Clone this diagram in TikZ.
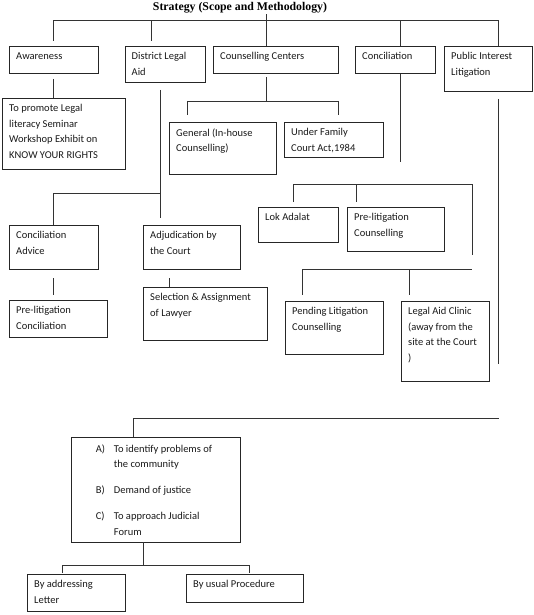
\documentclass[tikz,border=0pt]{standalone}
\usepackage{fontspec}
\setmainfont{Carlito}
\newfontfamily\titlefont{Liberation Serif}
\usetikzlibrary{calc}
\tikzset{
 boxst/.style={draw=black!85, line width=0.9pt, inner sep=0pt, anchor=north west},
 txt/.style={inner xsep=7pt, inner ysep=6.3pt, anchor=north west, align=left, font=\fontsize{10.5}{15.5}\selectfont, text=black!90},
 ln/.style={draw=black!80, line width=0.9pt},
}
\newcommand\bx[6]{%
 \node[boxst, minimum width={(#4-#2)*1pt}, minimum height={(#5-#3)*1pt}] (#1) at (#2,#3) {};
 \node[txt] (#1t) at (#1.north west) {#6};}
\begin{document}
\begin{tikzpicture}[x=1pt,y=-1pt]
\useasboundingbox (0,0) rectangle (534,615);
\node[inner sep=1pt, font=\titlefont\bfseries\fontsize{11.8}{13}\selectfont] (title) at (240,7.5) {Strategy (Scope and Methodology)};
% boxes
\bx{aw}{9}{46}{98}{73}{Awareness}
\bx{dla}{124.5}{46}{205}{81.6}{District Legal\\Aid}
\bx{cc}{213}{46}{338}{73}{Counselling Centers}
\bx{con}{355}{46}{435}{73}{Conciliation}
\bx{pil}{444}{46}{532}{91}{Public Interest\\Litigation}
\bx{prom}{2}{98}{125}{169}{To promote Legal\\literacy Seminar\\Workshop Exhibit on\\KNOW YOUR RIGHTS}
\bx{gen}{169}{122}{276}{174}{General (In-house\\Counselling)}
\bx{ufc}{284}{122}{383}{157}{Under Family\\Court Act,1984}
\bx{cadv}{9}{225}{98}{269}{Conciliation\\Advice}
\bx{adj}{143}{225}{240}{269}{Adjudication by\\the Court}
\bx{plc}{9}{300}{107}{337}{Pre-litigation\\Conciliation}
\bx{sel}{143}{287}{267}{340}{Selection \& Assignment\\of Lawyer}
\bx{lok}{258}{207}{338}{242}{Lok Adalat}
\bx{plcoun}{347}{207}{444}{251}{Pre-litigation\\Counselling}
\bx{pend}{285}{301}{383}{354}{Pending Litigation\\Counselling}
\bx{lac}{401}{301}{489}{381}{Legal Aid Clinic\\(away from the\\site at the Court\\)}
\bx{list}{70.7}{437}{240}{542}{}
\node[txt, inner xsep=0pt, inner ysep=4pt] (listtx) at ($(list.north west)+(25,0)$) {\begin{tabular}{@{}p{18pt}@{}l@{}}A) & To identify problems of\\ & the community\\[10.5pt] B) & Demand of justice\\[10.5pt] C) & To approach Judicial\\ & Forum\end{tabular}};
\bx{addr}{27}{574}{125}{611}{By addressing\\Letter}
\bx{usual}{186}{574}{303}{602}{By usual Procedure}
% top bus
\coordinate (tA) at (53.4,20.4);
\coordinate (tB) at (151,20.4);
\coordinate (tE) at (498,20.4);
\draw[ln] (tA) -- (tE);
\draw[ln] (tA) -- ++(0,20.6);
\draw[ln] (tB) -- ++(0,20.6);
\coordinate (ccT) at ($(cc.north west)+(53,0)$);
\draw[ln] (ccT |- title.south) -- (ccT);
\coordinate (conT) at ($(con.north west)+(45,0)$);
\draw[ln] (conT |- tA) -- (conT);
\draw[ln] (tE) -- (tE |- pil.north);
% awareness
\coordinate (awB) at (53.4,79);
\draw[ln] (awB) -- (awB |- prom.north);
% district legal aid
\coordinate (dlB) at (160,90);
\coordinate (dlE) at (160,218);
\coordinate (dlJ) at (160,193);
\draw[ln] (dlB) -- (dlE);
\draw[ln] (dlJ) -- (dlJ -| awB) -- (awB |- cadv.north);
\coordinate (caB) at (53.4,278);
\draw[ln] (caB) -- ++(0,17);
\coordinate (adB) at (169,278);
\draw[ln] (adB) -- (adB |- sel.north);
% counselling centers
\coordinate (ccB) at (266,77);
\coordinate (ccJ) at (266,101);
\draw[ln] (ccB) -- (ccJ);
\coordinate (ccL) at (187,101);
\coordinate (ccR) at (338,101);
\draw[ln] (ccL) -- (ccR);
\draw[ln] (ccL) -- ++(0,14);
\draw[ln] (ccR) -- ++(0,14);
% conciliation
\draw[ln] (conT |- con.south) -- ++(0,88);
\coordinate (lkL) at (293,184);
\coordinate (lkM) at (356,184);
\coordinate (lkR) at (472,184);
\draw[ln] (lkL) -- (lkR);
\draw[ln] (lkL) -- ++(0,18);
\draw[ln] (lkM) -- ++(0,18);
\draw[ln] (lkR) -- ++(0,71);
\coordinate (pdL) at (302,269);
\coordinate (pdM) at (409,269);
\coordinate (pdR) at (472,269);
\draw[ln] (pdL) -- (pdR);
\draw[ln] (pdL) -- ++(0,26);
\draw[ln] (pdM) -- ++(0,26);
% public interest litigation
\coordinate (plT) at (498.5,99);
\coordinate (plE) at (498.5,364);
\draw[ln] (plT) -- (plE);
\coordinate (btL) at (133,418);
\coordinate (btR) at (499,418);
\draw[ln] (btL) -- (btR);
\draw[ln] (btL) -- (btL |- list.north);
\coordinate (lsB) at (143,542);
\coordinate (lsJ) at (143,565);
\draw[ln] (lsB) -- (lsJ);
\coordinate (bL) at (62,565);
\coordinate (bR) at (249,565);
\draw[ln] (bL) -- (bR);
\draw[ln] (bL) -- ++(0,8);
\draw[ln] (bR) -- ++(0,8);
\end{tikzpicture}
\end{document}
